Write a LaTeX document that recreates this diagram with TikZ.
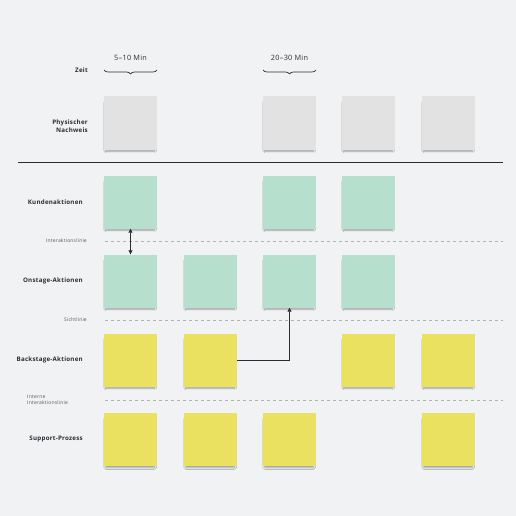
\documentclass[tikz,border=0pt]{standalone}
\usepackage{fontspec}
\setmainfont{Open Sans}[LetterSpace=4]
\usetikzlibrary{shadows,shadows.blur,arrows.meta,decorations.pathreplacing}
\definecolor{paper}{HTML}{F1F2F4}
\definecolor{ink}{HTML}{2B2D33}
\definecolor{notegray}{HTML}{E2E2E2}
\definecolor{notegreen}{HTML}{B7DFCE}
\definecolor{noteyellow}{HTML}{EAE160}
\tikzset{
  note/.style={minimum size=53pt,inner sep=0pt,anchor=center,
    blur shadow={shadow xshift=-0.5pt,shadow yshift=-4pt,shadow scale=0.92,shadow blur radius=2pt,shadow opacity=35}},
  grau/.style={note,fill=notegray},
  gruen/.style={note,fill=notegreen},
  gelb/.style={note,fill=noteyellow},
  rowlabel/.style={anchor=east,font=\fontsize{6.2}{7.6}\selectfont\bfseries,text=ink,inner sep=0pt,align=right},
  linelabel/.style={anchor=east,font=\fontsize{5}{6.2}\selectfont,text=ink!80,inner sep=0pt},
  timelabel/.style={midway,above=6pt,font=\fontsize{7.3}{8.5}\selectfont,text=ink},
  divider/.style={gray!60,line width=0.6pt,dash pattern=on 3pt off 3pt},
  flow/.style={ink,line width=0.8pt,-{Triangle[length=4pt,width=4pt]}}
}
\begin{document}
\begin{tikzpicture}[x=1pt,y=-1pt]
        % Draw paper background
        \fill[paper] (0,0) rectangle (516,516);
        \useasboundingbox (0,0) rectangle (516,516);
        % Draw time braces
        \draw[ink,line width=0.7pt,decorate,decoration={brace,amplitude=4pt,mirror}] (104,70) -- (157,70)
            node[timelabel] (t1) {5--10 Min};
        \draw[ink,line width=0.7pt,decorate,decoration={brace,amplitude=4pt,mirror}] (263,70) -- (316,70)
            node[timelabel] (t2) {20--30 Min};
        % Draw row labels
        \node[rowlabel] (lzeit) at (88,70) {Zeit};
        \node[rowlabel] (lphys) at (88,126) {Physischer\\Nachweis};
        \node[rowlabel] (lkunde) at (83,202) {Kundenaktionen};
        \node[rowlabel] (lon) at (83,281) {Onstage-Aktionen};
        \node[rowlabel] (lback) at (83,360) {Backstage-Aktionen};
        \node[rowlabel] (lsupp) at (83,439) {Support-Prozess};
        % Draw separating lines
        \draw[ink,line width=0.9pt] (18,162) -- (503,162);
        \draw[divider] (105,241) -- (503,241);
        \draw[divider] (105,320) -- (503,320);
        \draw[divider] (105,400) -- (503,400);
        \node[linelabel] (linter) at (87,241) {Interaktionslinie};
        \node[linelabel] (lsicht) at (87,320) {Sichtlinie};
        \node[linelabel,anchor=west,align=left] (lintern) at (27,400) {Interne\\Interaktionslinie};
        % Draw sticky notes
        \node[grau] (p1) at (130.5,123) {};
        \node[grau] (p3) at (289.5,123) {};
        \node[grau] (p4) at (368.5,123) {};
        \node[grau] (p5) at (448.5,123) {};
        \node[gruen] (k1) at (130.5,202) {};
        \node[gruen] (k3) at (289.5,202) {};
        \node[gruen] (k4) at (368.5,202) {};
        \node[gruen] (o1) at (130.5,281) {};
        \node[gruen] (o2) at (210.5,281) {};
        \node[gruen] (o3) at (289.5,281) {};
        \node[gruen] (o4) at (368.5,281) {};
        \node[gelb] (b1) at (130.5,360) {};
        \node[gelb] (b2) at (210.5,360) {};
        \node[gelb] (b4) at (368.5,360) {};
        \node[gelb] (b5) at (448.5,360) {};
        \node[gelb] (s1) at (130.5,439.5) {};
        \node[gelb] (s2) at (210.5,439.5) {};
        \node[gelb] (s3) at (289.5,439.5) {};
        \node[gelb] (s5) at (448.5,439.5) {};
        % Draw connectors
        \draw[flow,{Triangle[length=4pt,width=4pt]}-{Triangle[length=4pt,width=4pt]}] (k1.south) -- (o1.north);
        \draw[flow] (b2.east) -| (o3.south);
    \end{tikzpicture}
\end{document}
